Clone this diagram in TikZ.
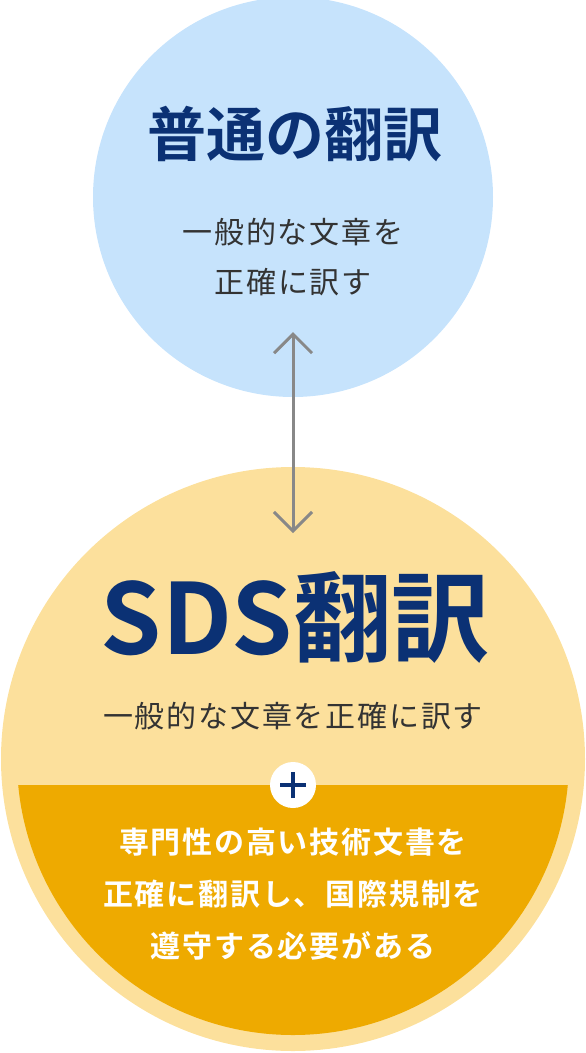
\documentclass[tikz,border=0pt]{standalone}
\usepackage{fontspec}
\setmainfont{Noto Sans CJK JP}[BoldFont={Noto Sans CJK JP Bold}]
\newfontfamily\spacedjp{Noto Sans CJK JP}[LetterSpace=6,BoldFont={Noto Sans CJK JP Bold}]
\usepackage{tikz}
\usetikzlibrary{arrows.meta}
\definecolor{plainblue}{HTML}{C6E3FC}
\definecolor{sdslight}{HTML}{FCE09C}
\definecolor{sdsdeep}{HTML}{EEAA00}
\definecolor{navy}{HTML}{0B3174}
\definecolor{bodygray}{HTML}{333333}
\definecolor{arrowgray}{HTML}{888888}
\tikzset{
	bubble/.style={circle,inner sep=0pt,draw=none},
	headtext/.style={text=navy,font=\bfseries},
	bodytext/.style={text=bodygray,align=center,font=\spacedjp\fontsize{30}{50}\selectfont},
	plusdisc/.style={circle,fill=white,minimum size=46pt,inner sep=0pt,
		path picture={\draw[navy,line width=4pt]
			([xshift=-13pt]path picture bounding box.center) -- ([xshift=13pt]path picture bounding box.center)
			([yshift=-13pt]path picture bounding box.center) -- ([yshift=13pt]path picture bounding box.center);}}
}

\begin{document}
\begin{tikzpicture}[x=1pt,y=-1pt,
		    link/.style={draw=arrowgray,line width=3pt,{Straight Barb[length=19pt,width=38pt]}-{Straight Barb[length=19pt,width=38pt]}}]
	\useasboundingbox (0,0) rectangle (586,1053);
	% circles
	\node [bubble,fill=plainblue,minimum size=400pt] (plain) at (293,197) {};
	\node [bubble,fill=sdslight,minimum size=584pt] (sds) at (293,759) {};
	\begin{scope}
		\clip (0,785) rectangle (586,1053);
		\fill [sdsdeep] (sds.center) circle [radius=276pt];
	\end{scope}
	\node [plusdisc] (plus) at (293,785) {};
	% texts
	\node [headtext,font=\bfseries\fontsize{59}{60}\selectfont] (plainhead) at (295,134) {普通の翻訳};
	\node [bodytext] (plainbody) at (293,257) {一般的な文章を\\正確に訳す};
	\node [headtext,font=\bfseries\fontsize{98}{100}\selectfont] (sdshead) at (295,617) {SDS翻訳};
	\node [bodytext] (sdsbody) at (293,716) {一般的な文章を正確に訳す};
	\node [bodytext,text=white,font=\spacedjp\bfseries\fontsize{30}{52}\selectfont] (sdsextra) at (293,894)
		{専門性の高い技術文書を\\正確に翻訳し、国際規制を\\遵守する必要がある};
	% arrow
	\coordinate (uptip) at (293,332);
	\coordinate (downtip) at (293,533);
	\draw [link] (uptip) -- (downtip);
\end{tikzpicture}
\end{document}
